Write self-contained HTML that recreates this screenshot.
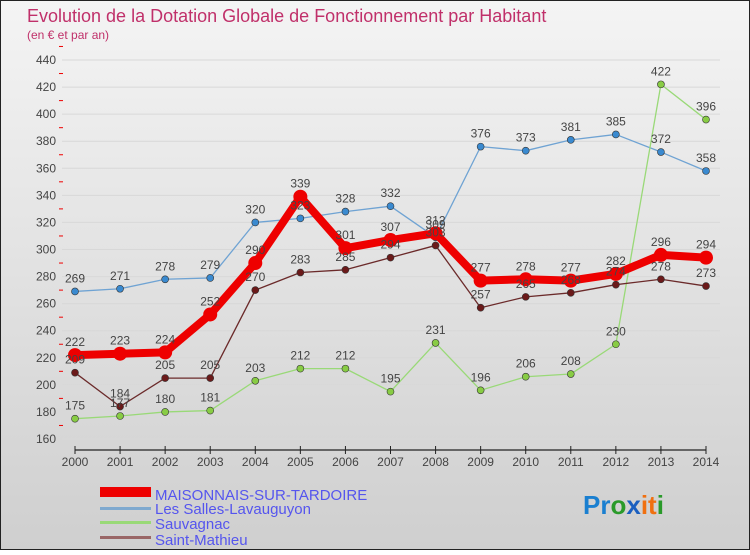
<!DOCTYPE html>
<html><head><meta charset="utf-8"><style>
body{margin:0;width:750px;height:550px;overflow:hidden;font-family:"Liberation Sans",sans-serif}
</style></head><body>
<svg id="c" width="750" height="550" xmlns="http://www.w3.org/2000/svg">
<defs><linearGradient id="bg" x1="0" y1="0" x2="0" y2="1"><stop offset="0" stop-color="#f4f4f4"/><stop offset="1" stop-color="#cfcfcf"/></linearGradient></defs>
<rect x="0.5" y="0.5" width="749" height="549" fill="url(#bg)" stroke="#222"/>
<text x="27" y="22" font-size="18" fill="#c0306a">Evolution de la Dotation Globale de Fonctionnement par Habitant</text>
<text x="27" y="39" font-size="12" fill="#c0306a">(en € et par an)</text>
<g id="grid"></g><g id="axes"></g><g id="series"></g><g id="labels"></g>
<g>
<rect x="100" y="487" width="51" height="10" fill="#e00"/>
<text x="155" y="500" font-size="15" fill="#5555ee">MAISONNAIS-SUR-TARDOIRE</text>
<rect x="100" y="507" width="51" height="3" fill="#7fa9cf"/>
<text x="155" y="514" font-size="15" fill="#5555ee">Les Salles-Lavauguyon</text>
<rect x="100" y="521" width="51" height="3" fill="#99d977"/>
<text x="155" y="529" font-size="15" fill="#5555ee">Sauvagnac</text>
<rect x="100" y="536" width="51" height="3" fill="#996666"/>
<text x="155" y="545" font-size="15" fill="#5555ee">Saint-Mathieu</text>
</g>
<g font-size="26" font-weight="bold">
<text x="583" y="514"><tspan fill="#1a7fd0">Pr</tspan><tspan fill="#2a9a2a">o</tspan><tspan fill="#1a5fc0">x</tspan><tspan fill="#f07010">it</tspan><tspan fill="#2a9a2a">i</tspan></text>
</g>
</svg>
<script>
const years=[2000,2001,2002,2003,2004,2005,2006,2007,2008,2009,2010,2011,2012,2013,2014];
const yTicks=[160,180,200,220,240,260,280,300,320,340,360,380,400,420,440];
const maisonnais=[222,223,224,252,290,339,301,307,312,277,278,277,282,296,294];
const lesSalles=[269,271,278,279,320,323,328,332,309,376,373,381,385,372,358];
const sauvagnac=[175,177,180,181,203,212,212,195,231,196,206,208,230,422,396];
const saintMathieu=[209,184,205,205,270,283,285,294,303,257,265,268,274,278,273];
const NS="http://www.w3.org/2000/svg";
const X=i=>75+i*(706-75)/14;
const Y=v=>439-(v-160)*(379/280);
function mk(tag,attrs,parent){const e=document.createElementNS(NS,tag);for(const k in attrs)e.setAttribute(k,attrs[k]);document.getElementById(parent).appendChild(e);return e;}
yTicks.forEach(t=>{
 const g=mk('line',{x1:62,x2:720,y1:Y(t),y2:Y(t),stroke:'#d8d8d8','stroke-width':1},'grid');
 
 
 const l=mk('text',{x:56,y:Y(t)+4,'font-size':12,fill:'#444','text-anchor':'end'},'axes');l.textContent=t;
 
 
 const d=mk('line',{x1:59,x2:63,y1:Y(t+10),y2:Y(t+10),stroke:'#e00'},'axes');
 
 
});
const ax=mk('line',{x1:75,x2:706,y1:450,y2:450,stroke:'#222','stroke-width':1.2},'axes');


years.forEach((yr,i)=>{
 const t=mk('line',{x1:X(i),x2:X(i),y1:446,y2:454,stroke:'#222'},'axes');
 
 
 const l=mk('text',{x:X(i),y:466,'font-size':12,fill:'#444','text-anchor':'middle'},'axes');l.textContent=yr;
 
 
});
function series(data,color,w,r,mc,name){
 const p=mk('polyline',{points:data.map((v,i)=>X(i)+','+Y(v)).join(' '),fill:'none',stroke:color,'stroke-width':w,'stroke-linejoin':'round'},'series');
 
 
 data.forEach((v,i)=>{
  const c=mk('circle',{cx:X(i),cy:Y(v),r:r,fill:mc,stroke:'#333','stroke-width':r>5?0:0.6},'series');
  
  
  const l=mk('text',{x:X(i),y:Y(v)-9,'font-size':12,fill:'#444','text-anchor':'middle'},'labels');l.textContent=v;
  
  
 });
}
series(lesSalles,'#6fa3d3',1.3,3.5,'#3a8ad0','les-salles');
series(sauvagnac,'#99d977',1.3,3.5,'#88cc44','sauvagnac');
series(saintMathieu,'#6b2a2a',1.3,3.5,'#6b1a1a','saint-mathieu');
series(maisonnais,'#ee0000',8,7,'#ee0000','maisonnais');
</script>
</body></html>
